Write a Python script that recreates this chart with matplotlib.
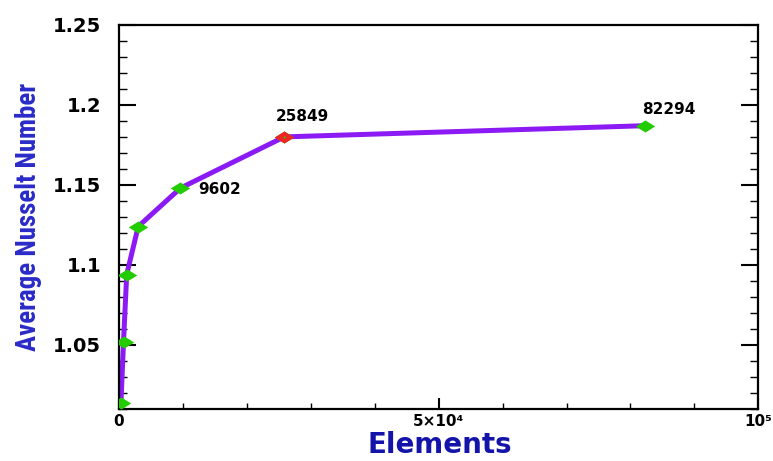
import matplotlib
matplotlib.use("Agg")
import matplotlib.pyplot as plt
from matplotlib import font_manager
from matplotlib.ticker import MultipleLocator, FixedLocator, FixedFormatter

# mesh study: number of elements vs average Nusselt number
elements = [300, 700, 1200, 3000, 9602, 25849, 82294]
nusselt = [1.014, 1.052, 1.094, 1.124, 1.148, 1.180, 1.187]

# points that carry a text label, and the mesh that was chosen
labelled = [9602, 25849, 82294]
chosen = 25849

xticks = [0, 50000, 100000]
xtick_labels = ["0", "5\u00d710\u2074", "10\u2075"]
yticks = [1.05, 1.10, 1.15, 1.20, 1.25]
ytick_labels = ["1.05", "1.1", "1.15", "1.2", "1.25"]


def pick_font(names):
    for name in names:
        try:
            font_manager.findfont(name, fallback_to_default=False)
            return name
        except ValueError:
            continue
    return "DejaVu Sans"


plt.rcParams["font.family"] = "DejaVu Sans"
narrow = pick_font(["Liberation Sans Narrow", "DejaVu Sans Condensed",
                    "Roboto Condensed", "Liberation Sans"])

fig = plt.figure(figsize=(7.73, 4.61), dpi=100)
ax = fig.add_axes([0.154, 0.113, 0.827, 0.833])

# curve
ax.plot(elements, nusselt, color="#8C1AF5", lw=3.6,
        solid_joinstyle="round", solid_capstyle="round", zorder=2)

# wide diamond markers
diamond = [(-1, 0), (0, 0.62), (1, 0), (0, -0.62), (-1, 0)]
ax.plot(elements, nusselt, ls="none", marker=diamond, ms=14,
        color="#22CC00", mec="none", zorder=3)

i = elements.index(chosen)
ax.plot(elements[i], nusselt[i], ls="none", marker=diamond, ms=14,
        color="#F02424", mec="none", zorder=4)
ax.plot(elements[i], nusselt[i], ls="none", marker="s", ms=1.5,
        color="#22CC00", mec="none", zorder=5)

# point labels
offsets = {
    9602: (13, -1, "left", "center"),
    25849: (13, 15, "center", "center"),
    82294: (17, 12, "center", "center"),
}
for n in labelled:
    k = elements.index(n)
    dx, dy, ha, va = offsets[n]
    ax.annotate(str(n), (elements[k], nusselt[k]), xytext=(dx, dy),
                textcoords="offset points", ha=ha, va=va,
                fontsize=11, fontweight="bold", color="black")

ax.set_xlim(0, 100000)
ax.set_ylim(1.01, 1.25)

ax.xaxis.set_major_locator(FixedLocator(xticks))
ax.xaxis.set_major_formatter(FixedFormatter(xtick_labels))
ax.xaxis.set_minor_locator(MultipleLocator(10000))
ax.yaxis.set_major_locator(FixedLocator(yticks))
ax.yaxis.set_major_formatter(FixedFormatter(ytick_labels))
ax.yaxis.set_minor_locator(MultipleLocator(0.01))

ax.tick_params(axis="y", which="major", direction="in", length=12, width=1.5,
               left=True, right=True, labelsize=14, pad=13)
ax.tick_params(axis="y", which="minor", direction="in", length=6, width=1,
               left=True, right=True)
ax.tick_params(axis="x", which="major", direction="in", length=8, width=1.5,
               top=False, labelsize=11, pad=3.5)
ax.tick_params(axis="x", which="minor", direction="in", length=4.5, width=1,
               top=False)
for lab in ax.get_xticklabels() + ax.get_yticklabels():
    lab.set_fontweight("bold")

for s in ax.spines.values():
    s.set_linewidth(1.6)
    s.set_color("black")

ax.set_xlabel("Elements", fontsize=20, fontweight="bold", color="#1414AA")
ax.xaxis.label.set_va("baseline")
ax.xaxis.set_label_coords(0.502, -0.116)

ylab = ax.set_ylabel("Average Nusselt Number", fontsize=19, color="#2A2AC8",
                     fontweight="bold", family=[narrow, "DejaVu Sans"])
ax.yaxis.set_label_coords(-0.12, 0.5)

# size the axis title so it spans about 268 px
fig.canvas.draw()
h = ylab.get_window_extent().height
ylab.set_fontsize(19 * 268 / h)

fig.savefig("out.png", dpi=100)
